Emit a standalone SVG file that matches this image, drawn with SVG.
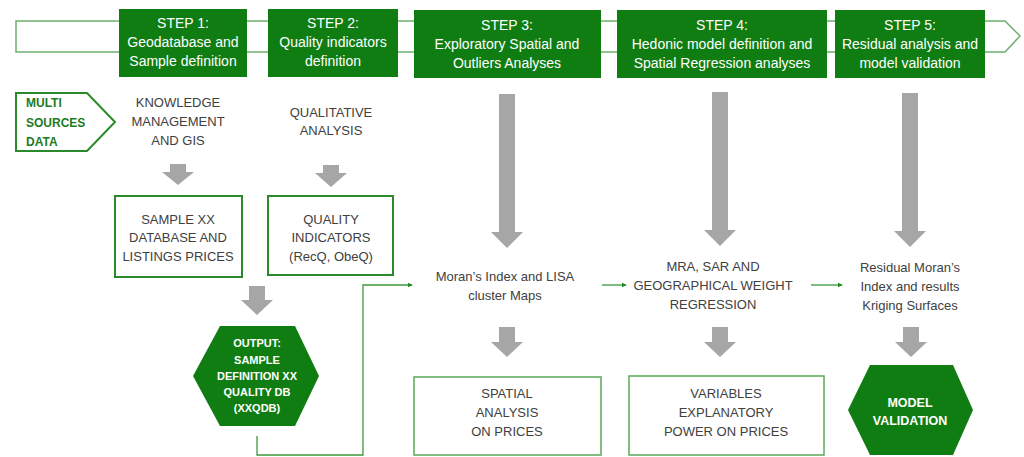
<svg xmlns="http://www.w3.org/2000/svg" width="1024" height="457" viewBox="0 0 1024 457">
<style>
.step{fill:#0f7d12}
.st{fill:#ffffff;font-family:"Liberation Sans",Arial,sans-serif;font-size:14px;text-anchor:middle}
.gt{fill:#404040;font-family:"Liberation Sans",Arial,sans-serif;font-size:13px;text-anchor:middle}
.bt{fill:#ffffff;font-family:"Liberation Sans",Arial,sans-serif;font-weight:bold;text-anchor:middle}
.gray{fill:#a6a6a6}
.box1{fill:#ffffff;stroke:#2a8a2a;stroke-width:2}
.box2{fill:#ffffff;stroke:#5aa85a;stroke-width:1.5}
.hex{fill:#0f7d12}
.con{fill:none;stroke:#3d993d;stroke-width:1.3}
</style>
<defs>
<marker id="ah" viewBox="0 0 8 8" refX="7" refY="4" markerWidth="5" markerHeight="5" orient="auto" markerUnits="userSpaceOnUse">
<path d="M0,0 L8,4 L0,8 Z" fill="#1e8a1e"/>
</marker>
</defs>
<rect width="1024" height="457" fill="#ffffff"/>

<g id="band">
<path d="M16,21 H1005 L1020,36 L1005,52 H16 Z" fill="#ffffff" stroke="#6cb06c" stroke-width="1.5"/>
</g>

<g id="step1">
<rect class="step" x="119" y="9" width="128" height="68"/>
<text class="st" x="183" y="28">STEP 1:</text>
<text class="st" x="183" y="47">Geodatabase and</text>
<text class="st" x="183" y="66">Sample definition</text>
</g>
<g id="step2">
<rect class="step" x="268" y="9" width="130" height="68"/>
<text class="st" x="333" y="28">STEP 2:</text>
<text class="st" x="333" y="47">Quality indicators</text>
<text class="st" x="333" y="66">definition</text>
</g>
<g id="step3">
<rect class="step" x="414" y="10" width="187" height="68"/>
<text class="st" x="507" y="30">STEP 3:</text>
<text class="st" x="507" y="49">Exploratory Spatial and</text>
<text class="st" x="507" y="68">Outliers Analyses</text>
</g>
<g id="step4">
<rect class="step" x="617" y="10" width="210" height="68"/>
<text class="st" x="722" y="30">STEP 4:</text>
<text class="st" x="722" y="49">Hedonic model definition and</text>
<text class="st" x="722" y="68">Spatial Regression analyses</text>
</g>
<g id="step5">
<rect class="step" x="835" y="10" width="150" height="68"/>
<text class="st" x="910" y="30">STEP 5:</text>
<text class="st" x="910" y="49">Residual analysis and</text>
<text class="st" x="910" y="68">model validation</text>
</g>

<g id="multi-sources">
<path d="M16,93 H87 L115,122 L87,151 H16 Z" fill="#ffffff" stroke="#2a8a2a" stroke-width="2"/>
<g fill="#1e7b1e" font-family="'Liberation Sans',Arial,sans-serif" font-weight="bold" font-size="12px">
<text x="26" y="107">MULTI</text>
<text x="26" y="127">SOURCES</text>
<text x="26" y="146">DATA</text>
</g>
</g>

<g id="knowledge">
<text class="gt" x="178" y="107">KNOWLEDGE</text>
<text class="gt" x="178" y="126">MANAGEMENT</text>
<text class="gt" x="178" y="145">AND GIS</text>
</g>
<g id="qualitative">
<text class="gt" x="331" y="117">QUALITATIVE</text>
<text class="gt" x="331" y="135">ANALYSIS</text>
</g>

<g id="sample-db">
<rect class="box1" x="115" y="196" width="127" height="81"/>
<text class="gt" x="178" y="224">SAMPLE XX</text>
<text class="gt" x="178" y="242">DATABASE AND</text>
<text class="gt" x="178" y="261">LISTINGS PRICES</text>
</g>
<g id="quality-indicators">
<rect class="box1" x="268" y="196" width="125" height="79"/>
<text class="gt" x="331" y="224">QUALITY</text>
<text class="gt" x="331" y="242">INDICATORS</text>
<text class="gt" x="331" y="261">(RecQ, ObeQ)</text>
</g>

<g id="output">
<path class="hex" d="M193,376 L220,326 H295 L319,376 L295,426 H220 Z"/>
<g class="bt" font-size="11px">
<text x="257" y="347">OUTPUT:</text>
<text x="257" y="364">SAMPLE</text>
<text x="257" y="380">DEFINITION XX</text>
<text x="257" y="396">QUALITY DB</text>
<text x="257" y="412">(XXQDB)</text>
</g>
</g>

<g id="moran">
<text class="gt" x="505" y="281">Moran’s Index and LISA</text>
<text class="gt" x="505" y="300">cluster Maps</text>
</g>
<g id="mra">
<text class="gt" x="713" y="271">MRA, SAR AND</text>
<text class="gt" x="713" y="290">GEOGRAPHICAL WEIGHT</text>
<text class="gt" x="713" y="309">REGRESSION</text>
</g>
<g id="residual">
<text class="gt" x="910" y="272">Residual Moran’s</text>
<text class="gt" x="910" y="291">Index and results</text>
<text class="gt" x="910" y="310">Kriging  Surfaces</text>
</g>

<g id="spatial-analysis">
<rect class="box2" x="414" y="377" width="187" height="78"/>
<text class="gt" x="507" y="398">SPATIAL</text>
<text class="gt" x="507" y="417">ANALYSIS</text>
<text class="gt" x="507" y="436">ON PRICES</text>
</g>
<g id="variables">
<rect class="box2" x="629" y="376" width="195" height="79"/>
<text class="gt" x="726" y="398">VARIABLES</text>
<text class="gt" x="726" y="417">EXPLANATORY</text>
<text class="gt" x="726" y="436">POWER ON PRICES</text>
</g>
<g id="model-validation">
<path class="hex" d="M848,410 L870,365 H953 L973,410 L953,455 H870 Z"/>
<g class="bt" font-size="12.5px">
<text x="910" y="407">MODEL</text>
<text x="910" y="425">VALIDATION</text>
</g>
</g>

<g id="connectors">
<path class="gray" d="M170,164 H186 V172 H194 L178,185 L162,172 H170 Z"/>
<path class="gray" d="M323,165 H339 V173 H347 L331,187 L315,173 H323 Z"/>
<path class="gray" d="M249,286 H265 V300 H273 L257,315 L241,300 H249 Z"/>
<path class="gray" d="M499,94 H515 V232 H523 L507,248 L491,232 H499 Z"/>
<path class="gray" d="M712,92 H728 V230 H736 L720,246 L704,230 H712 Z"/>
<path class="gray" d="M902,93 H918 V231 H926 L910,247 L894,231 H902 Z"/>
<path class="gray" d="M499,327 H515 V342 H523 L507,357 L491,342 H499 Z"/>
<path class="gray" d="M712,327 H728 V342 H736 L720,357 L704,342 H712 Z"/>
<path class="gray" d="M903,327 H919 V342 H927 L911,357 L895,342 H903 Z"/>
<path class="con" d="M257,436 V455 H363 V285 H412" marker-end="url(#ah)"/>
<path class="con" d="M602,285 H626" marker-end="url(#ah)"/>
<path class="con" d="M811,285 H842" marker-end="url(#ah)"/>
</g>
</svg>
